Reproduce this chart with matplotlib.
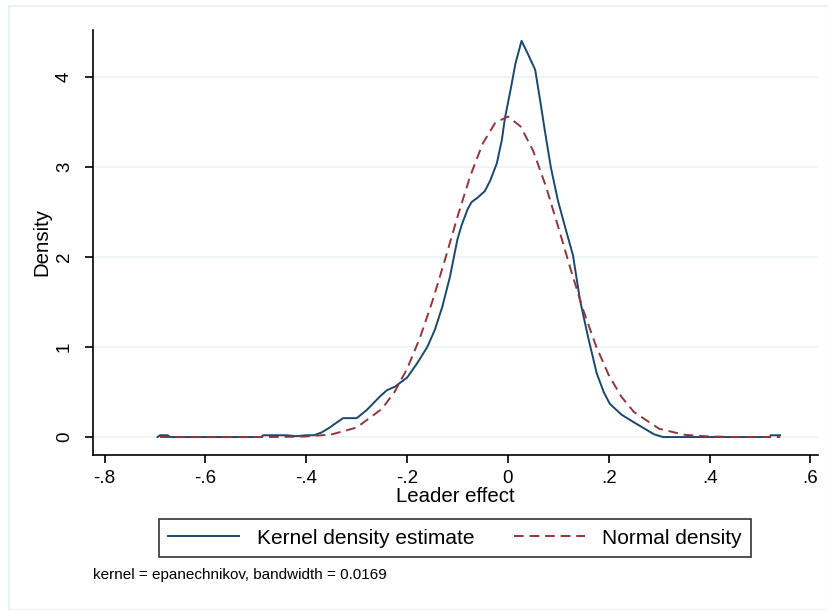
import numpy as np
import matplotlib
matplotlib.use("Agg")
import matplotlib.pyplot as plt
from matplotlib.patches import Rectangle

plt.rcParams['font.family'] = ['Liberation Sans', 'DejaVu Sans']

# kernel density estimate
kde_x = [-0.695, -0.69, -0.675, -0.67, -0.49, -0.485, -0.44, -0.42, -0.40, -0.385,
         -0.37, -0.355, -0.34, -0.327, -0.30, -0.28, -0.254, -0.24, -0.224, -0.20,
         -0.18, -0.16, -0.145, -0.13, -0.115, -0.10, -0.092, -0.08, -0.072, -0.06,
         -0.046, -0.035, -0.022, -0.012, -0.006, 0.005, 0.015, 0.027, 0.04, 0.054,
         0.065, 0.073, 0.085, 0.099, 0.115, 0.129, 0.143, 0.159, 0.176, 0.19,
         0.202, 0.225, 0.248, 0.275, 0.29, 0.308, 0.52, 0.521, 0.54]
kde_y = [0.0, 0.02, 0.02, 0.0, 0.0, 0.02, 0.02, 0.01, 0.02, 0.02,
         0.05, 0.10, 0.16, 0.21, 0.21, 0.30, 0.45, 0.52, 0.56, 0.66,
         0.82, 1.00, 1.19, 1.45, 1.78, 2.20, 2.35, 2.53, 2.61, 2.66,
         2.73, 2.85, 3.04, 3.30, 3.54, 3.85, 4.15, 4.40, 4.25, 4.08,
         3.70, 3.41, 3.00, 2.63, 2.30, 2.02, 1.52, 1.11, 0.71, 0.50,
         0.37, 0.25, 0.17, 0.08, 0.03, 0.0, 0.0, 0.02, 0.02]

# normal density
norm_x = [-0.69, -0.5, -0.45, -0.4, -0.35, -0.3, -0.25, -0.225, -0.2, -0.175,
          -0.15, -0.125, -0.1, -0.075, -0.05, -0.025, 0.0, 0.025, 0.05, 0.075,
          0.1, 0.125, 0.15, 0.175, 0.2, 0.225, 0.25, 0.3, 0.35, 0.4, 0.45, 0.54]
norm_y = [0.0, 0.0, 0.001, 0.007, 0.029, 0.106, 0.313, 0.50, 0.758, 1.095,
          1.505, 1.967, 2.447, 2.895, 3.26, 3.492, 3.56, 3.45, 3.18, 2.79,
          2.33, 1.853, 1.40, 1.007, 0.688, 0.448, 0.278, 0.092, 0.025, 0.006, 0.001, 0.0]

xticks = [-0.8, -0.6, -0.4, -0.2, 0, 0.2, 0.4, 0.6]
xlabels = ['-.8', '-.6', '-.4', '-.2', '0', '.2', '.4', '.6']
yticks = [0, 1, 2, 3, 4]

blue = '#1a476f'
red = '#90353b'
grid = '#eaf2f3'

fig = plt.figure(figsize=(8.29, 6.10), dpi=100)
fig.patches.append(Rectangle((0.011, 0.0), 0.989, 0.99, transform=fig.transFigure,
                             fill=False, edgecolor=grid, lw=1.5))
ax = fig.add_axes([0.1122, 0.254, 0.8745, 0.697])

for t in yticks:
    ax.axhline(t, color=grid, lw=1.2, zorder=0)

ax.plot(kde_x, kde_y, color=blue, lw=1.4, label='Kernel density estimate')
ax.plot(norm_x, norm_y, color=red, lw=1.4, ls=(0, (5, 3)), label='Normal density')

ax.set_xlim(-0.823, 0.615)
ax.set_ylim(-0.2, 4.522)
ax.set_xticks(xticks)
ax.set_xticklabels(xlabels)
ax.set_yticks(yticks)
ax.set_yticklabels([str(t) for t in yticks], rotation=90, va='center')
ax.tick_params(length=5.5, width=1.2, labelsize=13.5)
ax.tick_params(axis='x', pad=5)
ax.tick_params(axis='y', pad=9)
for s in ['top', 'right']:
    ax.spines[s].set_visible(False)
for s in ['left', 'bottom']:
    ax.spines[s].set_linewidth(1.2)

ax.set_xlabel('Leader effect', fontsize=14.7, labelpad=0.5)
ax.set_ylabel('Density', fontsize=14.7, labelpad=3)

leg = fig.legend(loc='center', bbox_to_anchor=(0.549, 0.118), ncol=2, fontsize=15,
                 frameon=True, fancybox=False, edgecolor='black', handlelength=3.4,
                 handletextpad=0.85, columnspacing=1.9, borderpad=0.45)
leg.get_frame().set_linewidth(1.2)

fig.text(0.1122, 0.0574, 'kernel = epanechnikov, bandwidth = 0.0169', fontsize=11,
         va='center')

fig.savefig('out.png', dpi=100)
